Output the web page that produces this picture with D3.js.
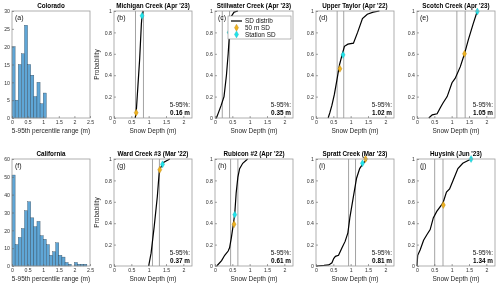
<!DOCTYPE html>
<html>
<head>
<meta charset="utf-8">
<script src="https://cdn.jsdelivr.net/npm/d3@7"></script>
<style>
  body { margin: 0; background: #fff; }
  svg { display: block; font-family: "Liberation Sans", Arial, sans-serif; will-change: transform; }
</style>
</head>
<body>
<div id="chart"></div>
<script>
// histogram counts, bin width 0.1 m starting at 0
const binWidth = 0.1;
const coloradoCounts = [20, 5, 15, 18, 26, 15, 12, 6, 10, 4, 7];
const californiaCounts = [51, 12, 16, 21, 31, 36, 27, 22, 25, 17, 15, 12, 6, 8, 13, 6, 5, 2, 1, 0, 2, 1, 1, 1];
const histTitles = ["Colorado", "California"];
const histLetters = ["(a)", "(f)"];
const histYTicks = [[0, 5, 10, 15, 20, 25, 30], [0, 10, 20, 30, 40, 50, 60]];
const histXTicks = [0, 0.5, 1, 1.5, 2, 2.5];

// site CDFs: [snow depth (m), probability]
const siteTitles = ["Michigan Creek (Apr '23)", "Stillwater Creek (Apr '23)", "Upper Taylor (Apr '22)", "Scotch Creek (Apr '23)",
                    "Ward Creek #3 (Mar '22)", "Rubicon #2 (Apr '22)", "Spratt Creek (Mar '23)", "Huysink (Jun '23)"];
const siteLetters = ["(b)", "(c)", "(d)", "(e)", "(g)", "(h)", "(i)", "(j)"];
const rangeValues = ["0.16", "0.35", "1.02", "1.05", "0.37", "0.61", "0.81", "1.34"];

const michiganCdf = [[0.61, 0], [0.64, 0.05], [0.69, 0.3], [0.74, 0.55], [0.79, 0.88], [0.81, 0.96], [0.84, 1]];
const stillwaterCdf = [[0.04, 0], [0.1, 0.05], [0.18, 0.12], [0.26, 0.2], [0.33, 0.4], [0.38, 0.6], [0.42, 0.8], [0.47, 0.95], [0.55, 0.99], [0.66, 1]];
const upperTaylorCdf = [[0.35, 0], [0.4, 0.05], [0.46, 0.12], [0.53, 0.22], [0.6, 0.35], [0.68, 0.5], [0.76, 0.6], [0.82, 0.67], [0.92, 0.69], [1.08, 0.7], [1.2, 0.8], [1.34, 0.93], [1.48, 0.97], [1.65, 0.99], [1.83, 1]];
const scotchCdf = [[0.34, 0], [0.44, 0.03], [0.58, 0.04], [0.68, 0.1], [0.75, 0.14], [0.87, 0.2], [1.01, 0.33], [1.1, 0.37], [1.25, 0.48], [1.37, 0.6], [1.48, 0.73], [1.62, 0.88], [1.74, 1]];
const wardCdf = [[1.0, 0], [1.07, 0.12], [1.16, 0.37], [1.25, 0.65], [1.31, 0.9], [1.44, 0.97], [1.61, 1]];
const rubiconCdf = [[0.05, 0], [0.19, 0.05], [0.28, 0.1], [0.38, 0.14], [0.42, 0.17], [0.47, 0.26], [0.52, 0.37], [0.57, 0.49], [0.61, 0.68], [0.66, 0.83], [0.71, 0.91], [0.8, 0.96], [0.94, 1]];
const sprattCdf = [[0, 0], [0.23, 0.005], [0.37, 0.01], [0.46, 0.03], [0.51, 0.07], [0.56, 0.09], [0.65, 0.1], [0.75, 0.17], [0.84, 0.23], [0.92, 0.31], [0.98, 0.46], [1.08, 0.65], [1.17, 0.82], [1.26, 0.91], [1.36, 0.96], [1.45, 0.99]];
const huysinkCdf = [[0, 0], [0.02, 0.1], [0.09, 0.15], [0.19, 0.24], [0.28, 0.29], [0.38, 0.34], [0.47, 0.45], [0.57, 0.51], [0.75, 0.59], [0.85, 0.69], [0.94, 0.72], [1.04, 0.8], [1.18, 0.91], [1.32, 0.96], [1.56, 1]];
const siteCdfs = [michiganCdf, stillwaterCdf, upperTaylorCdf, scotchCdf, wardCdf, rubiconCdf, sprattCdf, huysinkCdf];

const sd50m = [[0.64, 0.05], [0.43, 0.8], [0.69, 0.46], [1.37, 0.6], [1.32, 0.9], [0.55, 0.39], [1.43, 1.0], [0.76, 0.57]];
const stationSd = [[0.81, 0.955], [0.41, 0.8], [0.78, 0.59], [1.74, 0.995], [1.4, 0.95], [0.57, 0.48], [1.34, 0.96], [1.56, 1.0]];
const refLines = [[0.62, 0.85], [0.21, 0.42], [0.61, 0.8], [1.15, 1.39], [1.11, 1.31], [0.45, 0.66], [0.94, 1.14], [0.51, 0.75]];

const cdfXTicks = [0, 0.5, 1, 1.5, 2];
const cdfYTicks = [0, 0.2, 0.4, 0.6, 0.8, 1];
const legendLabels = ["SD distrib", "50 m SD", "Station SD"];

const width = 500, height = 286;
const colLeft = [12, 114, 215, 316, 417];
const rowTop = [11, 159];
const pw = 78, ph = 107;

const barFill = "#5fa6d6";
const orange = "#edb120";
const cyan = "#1fe3ea";
const frameColor = "#9c9c9c";
const textColor = "#262626";
const fmt = d3.format("~g");

const svg = d3.select("#chart").append("svg")
    .attr("width", width)
    .attr("height", height)
    .attr("viewBox", [0, 0, width, height]);

function frame(g) {
    g.append("rect")
        .attr("width", pw).attr("height", ph)
        .attr("fill", "none")
        .attr("stroke", frameColor)
        .attr("stroke-width", 0.8);
}

function styleAxis(a) {
    a.attr("font-family", null);
    a.select(".domain").remove();
    a.selectAll(".tick line").attr("stroke", "#666").attr("stroke-width", 0.6);
    a.selectAll(".tick text").attr("fill", "#333").attr("font-size", 5.2);
}

function drawAxes(g, x, y, xTicks, yTicks, xLabel) {
    g.append("g")
        .attr("transform", `translate(0,${ph})`)
        .call(d3.axisBottom(x).tickValues(xTicks).tickFormat(fmt).tickSize(-2).tickPadding(2.5))
        .call(styleAxis);
    g.append("g")
        .call(d3.axisLeft(y).tickValues(yTicks).tickFormat(fmt).tickSize(-2).tickPadding(2))
        .call(styleAxis);
    g.append("text")
        .attr("x", pw / 2).attr("y", ph + 15)
        .attr("text-anchor", "middle")
        .attr("font-size", 6.5)
        .attr("fill", textColor)
        .text(xLabel);
}

function addTitle(g, title, letter) {
    g.append("text")
        .attr("x", pw / 2).attr("y", -3)
        .attr("text-anchor", "middle")
        .attr("font-size", 6.3)
        .attr("font-weight", "bold")
        .attr("fill", "#000")
        .text(title);
    g.append("text")
        .attr("x", 3).attr("y", 8.5)
        .attr("font-size", 7)
        .attr("fill", "#111")
        .text(letter);
}

// histograms (a) and (f)
[coloradoCounts, californiaCounts].forEach((counts, r) => {
    const g = svg.append("g").attr("transform", `translate(${colLeft[0]},${rowTop[r]})`);
    const yt = histYTicks[r];
    const x = d3.scaleLinear([0, 2.5], [0, pw]);
    const y = d3.scaleLinear([0, yt[yt.length - 1]], [ph, 0]);

    g.selectAll("rect.bar")
        .data(counts)
        .join("rect")
        .attr("class", "bar")
        .attr("x", (d, i) => x(i * binWidth))
        .attr("width", x(binWidth) - x(0))
        .attr("y", d => y(d))
        .attr("height", d => y(0) - y(d))
        .attr("fill", barFill)
        .attr("stroke", "#2b3f4f")
        .attr("stroke-width", 0.35);

    frame(g);
    drawAxes(g, x, y, histXTicks, yt, "5-95th percentile range (m)");
    addTitle(g, histTitles[r], histLetters[r]);
});

// site CDF panels
const diamond = d3.symbol().type(d3.symbolDiamond).size(14);

siteCdfs.forEach((cdf, i) => {
    const r = Math.floor(i / 4), c = i % 4 + 1;
    const g = svg.append("g").attr("transform", `translate(${colLeft[c]},${rowTop[r]})`);
    const x = d3.scaleLinear([0, 2.25], [0, pw]);
    const y = d3.scaleLinear([0, 1], [ph, 0]);

    g.selectAll("line.ref")
        .data(refLines[i])
        .join("line")
        .attr("class", "ref")
        .attr("x1", d => x(d)).attr("x2", d => x(d))
        .attr("y1", 0).attr("y2", ph)
        .attr("stroke", "#999")
        .attr("stroke-width", 0.9);

    g.append("path")
        .datum(cdf)
        .attr("d", d3.line().x(d => x(d[0])).y(d => y(d[1])))
        .attr("fill", "none")
        .attr("stroke", "#000")
        .attr("stroke-width", 1.2);

    g.append("path")
        .attr("d", diamond)
        .attr("transform", `translate(${x(sd50m[i][0])},${y(sd50m[i][1])})`)
        .attr("fill", orange)
        .attr("stroke", "#b8891a")
        .attr("stroke-width", 0.4);
    g.append("path")
        .attr("d", diamond)
        .attr("transform", `translate(${x(stationSd[i][0])},${y(stationSd[i][1])})`)
        .attr("fill", cyan)
        .attr("stroke", "#19b5bb")
        .attr("stroke-width", 0.4);

    frame(g);
    drawAxes(g, x, y, cdfXTicks, cdfYTicks, "Snow Depth (m)");
    addTitle(g, siteTitles[i], siteLetters[i]);

    g.append("text")
        .attr("x", pw - 2).attr("y", ph - 11)
        .attr("text-anchor", "end")
        .attr("font-size", 6.4)
        .attr("fill", "#111")
        .text("5-95%:");
    g.append("text")
        .attr("x", pw - 2).attr("y", ph - 3)
        .attr("text-anchor", "end")
        .attr("font-size", 6.4)
        .attr("font-weight", "bold")
        .attr("fill", "#000")
        .text(rangeValues[i] + " m");

    if (c === 1) {
        g.append("text")
            .attr("transform", `translate(-15,${ph / 2}) rotate(-90)`)
            .attr("text-anchor", "middle")
            .attr("font-size", 6.5)
            .attr("fill", textColor)
            .text("Probability");
    }

    // legend only in (c)
    if (i === 1) {
        const lg = g.append("g").attr("transform", "translate(13,5)");
        lg.append("rect")
            .attr("width", 63).attr("height", 23)
            .attr("fill", "#fff")
            .attr("stroke", "#888")
            .attr("stroke-width", 0.6);
        const rowsY = [5, 11.7, 18.4];
        lg.append("line")
            .attr("x1", 3).attr("x2", 14)
            .attr("y1", rowsY[0]).attr("y2", rowsY[0])
            .attr("stroke", "#000").attr("stroke-width", 1.2);
        lg.append("path").attr("d", diamond)
            .attr("transform", `translate(8.5,${rowsY[1]})`)
            .attr("fill", orange).attr("stroke", "#b8891a").attr("stroke-width", 0.4);
        lg.append("path").attr("d", diamond)
            .attr("transform", `translate(8.5,${rowsY[2]})`)
            .attr("fill", cyan).attr("stroke", "#19b5bb").attr("stroke-width", 0.4);
        lg.selectAll("text")
            .data(legendLabels)
            .join("text")
            .attr("x", 17)
            .attr("y", (d, k) => rowsY[k] + 2.2)
            .attr("font-size", 6.4)
            .attr("fill", "#111")
            .text(d => d);
    }
});
</script>
</body>
</html>
